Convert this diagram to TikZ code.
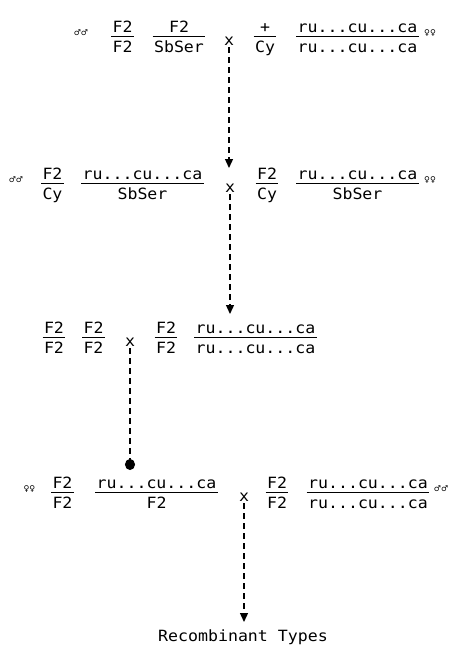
\documentclass[tikz,border=0pt]{standalone}
\usepackage{fontspec}
\setmainfont{DejaVu Sans Mono}[FakeStretch=1.07]
\newfontfamily\symfont{DejaVu Sans}
\usetikzlibrary{arrows.meta}

% genotype fraction: numerator over a rule over denominator;
% the box baseline is the denominator baseline
\newcommand{\genofrac}[2]{%
  \begingroup
  \setbox0=\hbox{#1}\setbox2=\hbox{#2}%
  \dimen0=\ifdim\wd0>\wd2 \wd0\else\wd2\fi
  \advance\dimen0 by 3pt
  \ht0=0pt \dp0=0pt \ht2=0pt \dp2=0pt
  \vbox{\hbox to\dimen0{\hss\rule{0pt}{11pt}\box0\hss}%
        \kern3pt\hrule height 1.2pt\kern15pt
        \hbox to\dimen0{\hss\box2\hss}}%
  \endgroup}

\tikzset{
  gt/.style={inner sep=0pt, anchor=base},
  cross/.style={inner sep=0pt, anchor=base},
  sex/.style={inner sep=0pt, font=\symfont\fontsize{8}{8}\selectfont},
  flow/.style={line width=1.3pt, dash pattern=on 6pt off 4pt, shorten <=2pt,
               -{Triangle[length=9pt,width=8pt]}},
  dotflow/.style={line width=1.3pt, dash pattern=on 6pt off 4pt, shorten <=2pt,
               -{Circle[length=11pt,width=10pt]}}
}

\begin{document}
\begin{tikzpicture}[x=1pt,y=1pt,font=\fontsize{15.5}{18}\selectfont]
\useasboundingbox (0,0) rectangle (460,-648);

% first cross
\node[sex] (m1) at (81,-33) {♂♂};
\node[gt] (a1) at (122.5,-52) {\genofrac{F2}{F2}};
\node[gt] (a2) at (179,-52) {\genofrac{F2}{SbSer}};
\node[cross] (x1) at (229,-45) {x};
\node[gt] (a3) at (265,-52) {\genofrac{+}{Cy}};
\node[gt] (a4) at (357.5,-52) {\genofrac{ru...cu...ca}{ru...cu...ca}};
\node[sex] (f1) at (430,-33) {♀♀};

% second cross
\node[sex] (m2) at (16,-180) {♂♂};
\node[gt] (b1) at (52.5,-199) {\genofrac{F2}{Cy}};
\node[gt] (b2) at (142.5,-199) {\genofrac{ru...cu...ca}{SbSer}};
\node[cross] (x2) at (230,-192) {x};
\node[gt] (b3) at (267,-199) {\genofrac{F2}{Cy}};
\node[gt] (b4) at (357.5,-199) {\genofrac{ru...cu...ca}{SbSer}};
\node[sex] (f2) at (430,-180) {♀♀};

% third cross
\node[gt] (c1) at (54,-353) {\genofrac{F2}{F2}};
\node[gt] (c2) at (93.5,-353) {\genofrac{F2}{F2}};
\node[cross] (x3) at (130,-346) {x};
\node[gt] (c3) at (166,-353) {\genofrac{F2}{F2}};
\node[gt] (c4) at (255.5,-353) {\genofrac{ru...cu...ca}{ru...cu...ca}};

% fourth cross
\node[sex] (f4) at (29.5,-489) {♀♀};
\node[gt] (d1) at (62.5,-508) {\genofrac{F2}{F2}};
\node[gt] (d2) at (156.5,-508) {\genofrac{ru...cu...ca}{F2}};
\node[cross] (x4) at (244,-501) {x};
\node[gt] (d3) at (277,-508) {\genofrac{F2}{F2}};
\node[gt] (d4) at (368,-508) {\genofrac{ru...cu...ca}{ru...cu...ca}};
\node[sex] (m4) at (441,-489) {♂♂};

\node[gt] (rt) at (243,-641) {Recombinant Types};

% arrow ends
\coordinate (t1) at (229,-168);
\coordinate (t2) at (230,-314);
\coordinate (t3) at (130,-470);
\coordinate (t4) at (244,-622);

\draw[flow] (x1.south) -- (t1);
\draw[flow] (x2.south) -- (t2);
\draw[dotflow] (x3.south) -- (t3);
\draw[flow] (x4.south) -- (t4);
\end{tikzpicture}
\end{document}
